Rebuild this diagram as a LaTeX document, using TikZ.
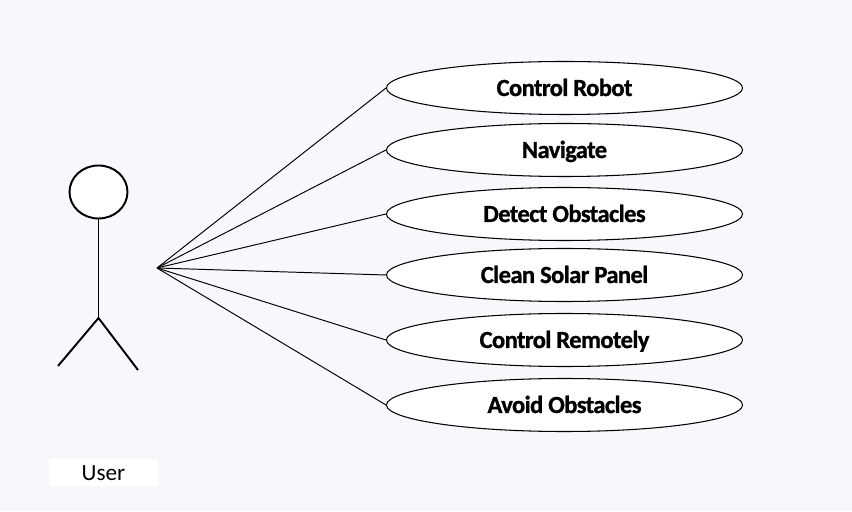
\documentclass[tikz,border=0pt]{standalone}
\usepackage{fontspec}
\setmainfont[BoldFont={Carlito Bold},BoldFeatures={FakeBold=0.9,LetterSpace=-2.5}]{Carlito}
\usetikzlibrary{shapes.geometric}
\definecolor{pagebg}{HTML}{F6F8FC}

\begin{document}
\begin{tikzpicture}[every node/.style={font=\fontsize{14}{16}\selectfont\bfseries},
    usecase/.style={draw,ellipse,fill=white,line width=0.6pt,inner sep=0pt,minimum width=7.12cm,minimum height=1.06cm,text height=10.5pt,text depth=1.4pt},
    link/.style={line width=0.55pt},
    stick/.style={line width=1.1pt}]
    % page
    \fill[pagebg] (0,0) rectangle (17.04,10.22);
    \useasboundingbox (0,0) rectangle (17.04,10.22);
    % actor
    \node[draw,ellipse,fill=white,line width=1.1pt,inner sep=0pt,minimum width=1.16cm,minimum height=1.06cm] (head) at (1.97,6.38) {};
    \coordinate (hip) at (1.97,3.86);
    \coordinate (footl) at (1.16,2.9);
    \coordinate (footr) at (2.76,2.82);
    \draw[stick] (head.south) -- (hip);
    \draw[stick] (footl) -- (hip) -- (footr);
    \node[fill=white,inner sep=0pt,minimum width=2.18cm,minimum height=0.54cm,text height=9.5pt,text depth=0pt,font=\fontsize{13.2}{15}\selectfont] (user) at (2.07,0.77) {User};
    % use cases
    \node[usecase] (robot) at (11.29,8.46) {Control Robot};
    \node[usecase] (navigate) at (11.29,7.22) {Navigate};
    \node[usecase] (detect) at (11.29,5.94) {Detect Obstacles};
    \node[usecase] (clean) at (11.29,4.72) {Clean Solar Panel};
    \node[usecase] (remote) at (11.29,3.42) {Control Remotely};
    \node[usecase] (avoid) at (11.29,2.12) {Avoid Obstacles};
    % links
    \coordinate (hub) at (3.14,4.86);
    \foreach \name in {robot,navigate,detect,clean,remote,avoid}
      \draw[link] (hub) -- (\name.west);
\end{tikzpicture}
\end{document}
